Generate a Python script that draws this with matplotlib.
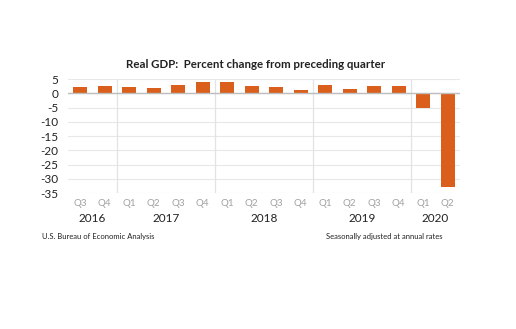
import matplotlib
matplotlib.use('Agg')
import matplotlib.pyplot as plt
import matplotlib.transforms as mtransforms

plt.rcParams['font.family'] = ['Lato', 'DejaVu Sans']

quarters = ['Q3', 'Q4', 'Q1', 'Q2', 'Q3', 'Q4', 'Q1', 'Q2', 'Q3', 'Q4',
            'Q1', 'Q2', 'Q3', 'Q4', 'Q1', 'Q2']
gdp = [2.2, 2.5, 2.3, 1.7, 2.9, 3.9, 3.8, 2.7, 2.1, 1.3, 2.9, 1.5, 2.6, 2.4, -5.0, -32.9]
years = ['2016', '2017', '2018', '2019', '2020']
year_counts = [2, 4, 4, 4, 2]
yticks = [5, 0, -5, -10, -15, -20, -25, -30, -35]

bar_color = '#DA5F1C'

fig = plt.figure(figsize=(5.16, 3.29), dpi=100)
ax = fig.add_axes([68/516, 1 - 193/329, (460 - 68)/516, (193 - 79)/329])

x = list(range(len(gdp)))
ax.bar(x, gdp, width=0.58, color=bar_color, zorder=3)

ax.set_xlim(-0.5, len(gdp) - 0.5)
ax.set_ylim(-35, 5)
ax.set_yticks(yticks)
ax.set_yticklabels([str(t) for t in yticks], fontsize=8.5, color='#222222')
for t in yticks:
    ax.axhline(t, color='#E8E8E8', lw=0.8, zorder=1)
ax.axhline(0, color='#BDBDBD', lw=1.0, zorder=4)

# year separators
pos = -0.5
for c in year_counts[:-1]:
    pos += c
    ax.axvline(pos, color='#E3E3E3', lw=0.9, zorder=1)

ax.set_xticks(x)
ax.set_xticklabels(quarters, fontsize=7, color='#A0A0A0')
ax.tick_params(axis='both', length=0, pad=4)
ax.tick_params(axis='y', pad=7)
for s in ax.spines.values():
    s.set_visible(False)

trans = mtransforms.blended_transform_factory(ax.transData, ax.transAxes)
start = 0
for yr, c in zip(years, year_counts):
    mid = start + (c - 1) / 2
    ax.text(mid, -0.22, yr, transform=trans, ha='center', va='center',
            fontsize=8.5, color='#222222')
    start += c

fig.text(256/516, 1 - 64/329, 'Real GDP:  Percent change from preceding quarter',
         ha='center', va='center', fontsize=8.3, fontweight='bold', color='#222222')
fig.text(42/516, 1 - 236/329, 'U.S. Bureau of Economic Analysis',
         ha='left', va='center', fontsize=5.5, color='#222222')
fig.text(443/516, 1 - 236/329, 'Seasonally adjusted at annual rates',
         ha='right', va='center', fontsize=5.5, color='#222222')

fig.savefig('out.png', dpi=100, facecolor='white')
